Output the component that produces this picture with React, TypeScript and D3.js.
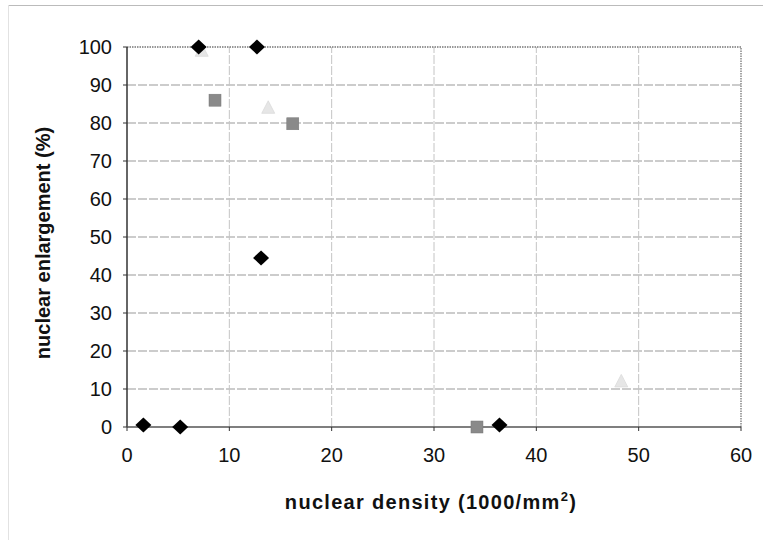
import React from "react";
import * as d3 from "d3";

const xTicks = [0, 10, 20, 30, 40, 50, 60];
const yTicks = [0, 10, 20, 30, 40, 50, 60, 70, 80, 90, 100];

const diamondX = [1.6, 5.2, 7.0, 12.7, 13.1, 36.4];
const diamondY = [0.5, 0, 100, 100, 44.5, 0.5];
const squareX = [8.6, 16.2, 34.2];
const squareY = [86, 79.8, 0];
const triangleX = [7.3, 13.8, 48.3];
const triangleY = [99, 84, 12];

export default function App() {
  const W = 763, H = 540;
  const x = d3.scaleLinear().domain([0, 60]).range([127, 741]);
  const y = d3.scaleLinear().domain([0, 100]).range([427, 47]);
  const font = "'Liberation Sans', Arial, sans-serif";
  const diamond = "M0,-7.5L8,0L0,7.5L-8,0Z";
  const tri = "M0,-7L6.5,5.5L-6.5,5.5Z";

  return (
    <svg width={W} height={H} style={{ position: "absolute", left: 0, top: 0, background: "#fff" }}>
      <rect x={0} y={0} width={W} height={H} fill="#fff" />
      {/* outer chart frame */}
      <line x1={8} y1={5.5} x2={W} y2={5.5} stroke="#bbb" strokeWidth={1} />
      <line x1={8.5} y1={5} x2={8.5} y2={H} stroke="#e2e2e2" strokeWidth={1} />
      {/* grid */}
      {yTicks.filter(t => t > 0 && t < 100).map(t => (
        <line key={"gy" + t} x1={x(0)} x2={x(60)} y1={y(t)} y2={y(t)}
          stroke="#999" strokeWidth={1} strokeDasharray="9,2" />
      ))}
      {xTicks.filter(t => t > 0 && t < 60).map(t => (
        <line key={"gx" + t} x1={x(t)} x2={x(t)} y1={y(0)} y2={y(100)}
          stroke="#c4c4c4" strokeWidth={1} strokeDasharray="9,2" />
      ))}
      {/* top and right border */}
      <line x1={x(0)} x2={x(60)} y1={y(100)} y2={y(100)} stroke="#777" strokeWidth={1.5} strokeDasharray="1.5,1" />
      <line x1={x(60)} x2={x(60)} y1={y(0)} y2={y(100)} stroke="#888" strokeWidth={1.5} strokeDasharray="1.5,1" />
      {/* axes */}
      <line x1={x(0)} x2={x(0)} y1={y(0)} y2={y(100)} stroke="#333" strokeWidth={1.5} />
      <line x1={x(0)} x2={x(60)} y1={y(0)} y2={y(0)} stroke="#555" strokeWidth={1.5} />
      {yTicks.map(t => (
        <g key={"yt" + t}>
          <line x1={x(0) - 4} x2={x(0)} y1={y(t)} y2={y(t)} stroke="#333" strokeWidth={1} />
          <text x={x(0) - 15} y={y(t)} dy="0.36em" textAnchor="end" fontFamily={font} fontSize={20} fill="#111">{t}</text>
        </g>
      ))}
      {xTicks.map(t => (
        <g key={"xt" + t}>
          <line x1={x(t)} x2={x(t)} y1={y(0)} y2={y(0) + 4} stroke="#333" strokeWidth={1} />
          <text x={x(t)} y={y(0) + 35} textAnchor="middle" fontFamily={font} fontSize={20} fill="#111">{t}</text>
        </g>
      ))}
      {/* markers */}
      {triangleX.map((v, i) => (
        <path key={"t" + i} d={tri} transform={`translate(${x(v)},${y(triangleY[i])})`} fill="#e6e6e6" stroke="#dadada" strokeWidth={0.8} />
      ))}
      {squareX.map((v, i) => (
        <rect key={"s" + i} x={x(v) - 6} y={y(squareY[i]) - 6} width={12} height={12} fill="#8a8a8a" stroke="#777" strokeWidth={0.5} />
      ))}
      {diamondX.map((v, i) => (
        <path key={"d" + i} d={diamond} transform={`translate(${x(v)},${y(diamondY[i])})`} fill="#000" />
      ))}
      {/* axis titles */}
      <text x={431} y={509} textAnchor="middle" fontFamily={font} fontSize={20} fontWeight="bold" letterSpacing={1.3} fill="#111">
        nuclear density (1000/mm<tspan dy={-8} fontSize={13}>2</tspan><tspan dy={8}>)</tspan>
      </text>
      <text transform={`translate(50,${243}) rotate(-90)`} textAnchor="middle" fontFamily={font} fontSize={20} fontWeight="bold" fill="#111">
        nuclear enlargement (%)
      </text>
    </svg>
  );
}
